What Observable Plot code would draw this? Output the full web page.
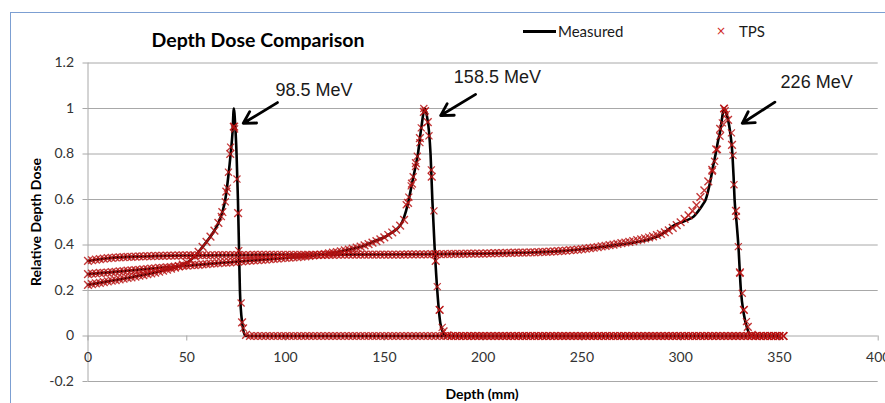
<!DOCTYPE html>
<html>
<head>
<meta charset="utf-8">
<script src="https://cdn.jsdelivr.net/npm/d3@7"></script>
<script src="https://cdn.jsdelivr.net/npm/@observablehq/plot@0.6"></script>
<style>
  body { margin: 0; background: #fff; }
  #wrap { position: relative; width: 885px; height: 403px; overflow: hidden; font-family: Lato, "Open Sans", sans-serif; background: #fff; }
  #wrap svg { position: absolute; left: 0; top: 0; }
  .frame { position: absolute; left: 10px; top: 12px; width: 900px; height: 420px; border-left: 1.5px solid #7c9fd2; border-top: 1.5px solid #7c9fd2; }
  .title { position: absolute; left: 258px; top: 39px; transform: translate(-50%, -50%); font-weight: 700; font-size: 19.5px; color: #000; white-space: nowrap; }
  .ylabel { position: absolute; left: 35px; top: 222px; transform: translate(-50%, -50%) rotate(-90deg); font-weight: 700; font-size: 14px; color: #000; white-space: nowrap; }
  .xlabel { position: absolute; left: 482px; top: 393px; transform: translate(-50%, -50%); font-weight: 700; font-size: 14px; color: #000; white-space: nowrap; }
  .leg { position: absolute; top: 31px; transform: translateY(-50%); font-size: 15px; color: #1a1a1a; white-space: nowrap; }
  .legline { position: absolute; left: 523px; top: 29.5px; width: 33px; height: 3px; background: #000; }
  .legx { position: absolute; left: 721px; top: 31px; transform: translate(-50%, -50%); color: #d02828; font-size: 12px; font-family: "DejaVu Sans", sans-serif; }
  g[aria-label="annotation"] { filter: drop-shadow(2px 3px 2px rgba(0,0,0,0.35)); }
</style>
</head>
<body>
<div id="wrap">
  <div class="frame"></div>
  <div class="title">Depth Dose Comparison</div>
  <div class="legline"></div>
  <div class="leg" style="left:558px">Measured</div>
  <div class="legx">×</div>
  <div class="leg" style="left:739px">TPS</div>
  <div class="ylabel">Relative Depth Dose</div>
  <div class="xlabel">Depth (mm)</div>
</div>
<script>
// ---- Axis ticks ----
const xTicks = [0, 50, 100, 150, 200, 250, 300, 350, 400];
const yTicks = [-0.2, 0, 0.2, 0.4, 0.6, 0.8, 1, 1.2];

// ---- Measured curves (depth mm, relative dose) ----
const measuredDepthA = [0,10,20,30,40,46,50,54,58,62,66,68,69.5,71,72.2,73.2,73.8,74.5,75.2,75.9,76.4,76.9,78,79.7,85,100,150,200,250,300,350];
const measuredDoseA  = [0.225,0.240,0.255,0.272,0.292,0.307,0.322,0.350,0.392,0.437,0.497,0.545,0.60,0.70,0.80,0.90,1.00,0.93,0.80,0.60,0.40,0.20,0.06,0,0,0,0,0,0,0,0];

const measuredDepthB = [0,20,40,60,80,100,110,120,130,140,145,150,153,156,159,161,162.4,164,165.8,167,168.7,170.5,171.5,172.6,173.4,174.3,175.4,176.8,178.5,181,200,250,300,350];
const measuredDoseB  = [0.272,0.287,0.302,0.316,0.330,0.343,0.350,0.360,0.376,0.398,0.417,0.434,0.45,0.468,0.50,0.55,0.60,0.67,0.745,0.80,0.915,1.00,0.97,0.90,0.80,0.60,0.40,0.20,0.05,0,0,0,0,0];

const measuredDepthC = [0,10,25,50,100,150,200,220,240,250,260,270,280,290,297.5,302,306.7,309,311,312.7,315,316.5,317.7,319,320,321,321.9,323,324,325,326.2,326.8,327.3,328.3,329.2,330.5,331.9,333.8,335.8,350];
const measuredDoseC  = [0.330,0.342,0.349,0.354,0.357,0.358,0.362,0.366,0.373,0.381,0.391,0.403,0.416,0.445,0.49,0.505,0.526,0.55,0.575,0.60,0.68,0.75,0.80,0.86,0.90,0.96,1.00,0.98,0.95,0.90,0.80,0.70,0.60,0.50,0.40,0.20,0.10,0.03,0,0];

// ---- TPS values, sampled every 2 mm from 0 to 352 mm ----
const tpsStep = 2;
const tpsDoseA = [
0.225,0.228,0.231,0.234,0.237,0.240,0.243,0.246,0.249,0.252,
0.255,0.258,0.261,0.265,0.268,0.272,0.275,0.279,0.283,0.287,
0.292,0.296,0.301,0.307,0.314,0.322,0.333,0.350,0.370,0.392,
0.414,0.437,0.463,0.497,0.545,0.635,0.800,0.920,0.540,0.060,
0.005,0,0,0,0,0,0,0,0,0,
0,0,0,0,0,0,0,0,0,0,
0,0,0,0,0,0,0,0,0,0,
0,0,0,0,0,0,0,0,0,0,
0,0,0,0,0,0,0,0,0,0,
0,0,0,0,0,0,0,0,0,0,
0,0,0,0,0,0,0,0,0,0,
0,0,0,0,0,0,0,0,0,0,
0,0,0,0,0,0,0,0,0,0,
0,0,0,0,0,0,0,0,0,0,
0,0,0,0,0,0,0,0,0,0,
0,0,0,0,0,0,0,0,0,0,
0,0,0,0,0,0,0,0,0,0,
0,0,0,0,0,0,0];

const tpsDoseB = [
0.272,0.274,0.275,0.277,0.278,0.279,0.281,0.282,0.284,0.285,
0.287,0.288,0.290,0.291,0.293,0.294,0.296,0.297,0.299,0.300,
0.302,0.303,0.305,0.306,0.308,0.309,0.311,0.312,0.313,0.315,
0.316,0.318,0.319,0.320,0.322,0.323,0.324,0.326,0.327,0.328,
0.330,0.331,0.332,0.334,0.335,0.336,0.338,0.339,0.340,0.342,
0.343,0.344,0.346,0.347,0.349,0.350,0.352,0.354,0.356,0.358,
0.360,0.363,0.366,0.369,0.372,0.376,0.380,0.384,0.388,0.393,
0.398,0.404,0.410,0.417,0.425,0.434,0.444,0.455,0.468,0.485,
0.510,0.585,0.670,0.760,0.870,0.985,0.940,0.700,0.330,0.115,
0.020,0.003,0,0,0,0,0,0,0,0,
0,0,0,0,0,0,0,0,0,0,
0,0,0,0,0,0,0,0,0,0,
0,0,0,0,0,0,0,0,0,0,
0,0,0,0,0,0,0,0,0,0,
0,0,0,0,0,0,0,0,0,0,
0,0,0,0,0,0,0,0,0,0,
0,0,0,0,0,0,0,0,0,0,
0,0,0,0,0,0,0];

const tpsDoseC = [
0.330,0.333,0.336,0.338,0.340,0.342,0.343,0.345,0.346,0.347,
0.348,0.348,0.349,0.350,0.350,0.351,0.351,0.352,0.352,0.352,
0.353,0.353,0.353,0.354,0.354,0.354,0.354,0.355,0.355,0.355,
0.355,0.355,0.355,0.356,0.356,0.356,0.356,0.356,0.356,0.356,
0.356,0.356,0.357,0.357,0.357,0.357,0.357,0.357,0.357,0.357,
0.357,0.357,0.357,0.357,0.357,0.357,0.357,0.357,0.357,0.357,
0.357,0.357,0.357,0.358,0.358,0.358,0.358,0.358,0.358,0.358,
0.358,0.358,0.358,0.358,0.358,0.358,0.358,0.358,0.358,0.358,
0.358,0.359,0.359,0.359,0.359,0.359,0.359,0.360,0.360,0.360,
0.360,0.360,0.361,0.361,0.361,0.361,0.362,0.362,0.362,0.362,
0.362,0.363,0.363,0.364,0.364,0.364,0.365,0.365,0.366,0.366,
0.366,0.367,0.368,0.368,0.369,0.370,0.370,0.371,0.372,0.373,
0.374,0.375,0.377,0.378,0.380,0.382,0.384,0.386,0.388,0.391,
0.394,0.396,0.399,0.402,0.405,0.408,0.411,0.414,0.417,0.421,
0.425,0.429,0.433,0.438,0.443,0.449,0.456,0.464,0.475,0.487,
0.500,0.515,0.530,0.550,0.575,0.610,0.640,0.680,0.730,0.820,
0.910,1.000,0.950,0.840,0.550,0.280,0.115,0.040,0.005,0,
0,0,0,0,0,0,0];

// ---- TPS markers read individually around the peaks ----
const tpsPeakDepthA = [73.6,74.2,72.2,71.1,70.6,69.5,67.5,75.4,76.3,77.5,78.7];
const tpsPeakDoseA  = [0.92,0.91,0.83,0.72,0.65,0.59,0.525,0.69,0.375,0.145,0.035];
const tpsPeakDepthB = [170.0,170.8,168.7,168.0,166.7,165.8,164.6,163.6,162.4,161.1,172.6,173.8,175.1,175.8,176.8,178.0,179.3];
const tpsPeakDoseB  = [1.0,0.99,0.915,0.85,0.79,0.745,0.70,0.66,0.61,0.577,0.88,0.73,0.55,0.36,0.217,0.115,0.038];
const tpsPeakDepthC = [321.9,322.5,321.1,319.9,318.6,317.2,316.0,323.1,325.7,326.5,327.0,328.2,329.2,330.0,331.2,332.0,333.3];
const tpsPeakDoseC  = [1.0,0.99,0.937,0.878,0.82,0.768,0.724,0.974,0.893,0.794,0.665,0.526,0.393,0.276,0.188,0.115,0.063];

// ---- Annotations ----
const annText   = ["98.5 MeV", "158.5 MeV", "226 MeV"];
const annDepth  = [94.9, 185.2, 350.6];
const annDose   = [1.081, 1.138, 1.114];
const arrowFromDepth = [95.9, 196.2, 347.7];
const arrowFromDose  = [1.026, 1.062, 1.028];
const arrowToDepth   = [78.6, 178.5, 331.2];
const arrowToDose    = [0.935, 0.969, 0.935];

// ---- Build tables ----
const energies = ["98.5 MeV", "158.5 MeV", "226 MeV"];
const measuredSets = [[measuredDepthA, measuredDoseA], [measuredDepthB, measuredDoseB], [measuredDepthC, measuredDoseC]];
const measured = measuredSets.flatMap(([ds, vs], k) => ds.map((d, i) => ({energy: energies[k], depth: d, dose: vs[i]})));
const tpsSets = [tpsDoseA, tpsDoseB, tpsDoseC];
const tps = tpsSets.flatMap((vs, k) => vs.map((v, i) => ({energy: energies[k], depth: i * tpsStep, dose: v})));
const peakSets = [[tpsPeakDepthA, tpsPeakDoseA], [tpsPeakDepthB, tpsPeakDoseB], [tpsPeakDepthC, tpsPeakDoseC]];
const tpsPeaks = peakSets.flatMap(([ds, vs], k) => ds.map((d, i) => ({energy: energies[k], depth: d, dose: vs[i]})));
const labels = annText.map((t, i) => ({text: t, depth: annDepth[i], dose: annDose[i]}));
const arrows = annText.map((t, i) => ({x1: arrowFromDepth[i], y1: arrowFromDose[i], x2: arrowToDepth[i], y2: arrowToDose[i]}));

const gridColor = "#a8a8a8";
const tpsColor = "#b81414";

const chart = Plot.plot({
  width: 885,
  height: 403,
  marginLeft: 87.5,
  marginRight: 7.3,
  marginTop: 62.5,
  marginBottom: 22,
  style: {fontFamily: "Lato, 'Open Sans', sans-serif", background: "transparent", overflow: "visible"},
  x: {domain: [0, 400], axis: null},
  y: {domain: [-0.2, 1.2], axis: null},
  marks: [
    Plot.ruleY(yTicks, {y: d => d, stroke: gridColor, strokeWidth: 1}),
    Plot.ruleX([0], {y1: -0.2, y2: 1.2, stroke: gridColor, strokeWidth: 1}),
    Plot.axisY(yTicks, {tickSize: 5, tickPadding: 9, stroke: gridColor, fill: "#333", fontSize: 14, label: null,
      tickFormat: d => String(+d.toFixed(1))}),
    Plot.ruleX(xTicks, {x: d => d, y1: 0, y2: 0, insetBottom: -5, stroke: gridColor, strokeWidth: 1}),
    Plot.text(xTicks, {x: d => d, y: 0, dy: 22, text: d => String(d), fontSize: 14, fill: "#333"}),
    Plot.line(measured, {x: "depth", y: "dose", z: "energy", stroke: "#000", strokeWidth: 2.6, curve: "monotone-x"}),
    Plot.dot(tps, {x: "depth", y: "dose", symbol: "times", r: 3.6, stroke: tpsColor, strokeWidth: 1.4, strokeOpacity: 0.85}),
    Plot.dot(tpsPeaks, {x: "depth", y: "dose", symbol: "times", r: 3.3, stroke: tpsColor, strokeWidth: 1.2, strokeOpacity: 0.85}),
    Plot.arrow(arrows, {x1: "x1", y1: "y1", x2: "x2", y2: "y2", stroke: "#000", strokeWidth: 2.8, headLength: 10, headAngle: 60, ariaLabel: "annotation"}),
    Plot.text(labels, {x: "depth", y: "dose", text: "text", textAnchor: "start", fontFamily: "'Liberation Sans', Arial, sans-serif", fontSize: 18, fill: "#1a1a1a", ariaLabel: "annotation"})
  ]
});
document.getElementById("wrap").insertBefore(chart, document.getElementById("wrap").firstChild);
</script>
</body>
</html>
